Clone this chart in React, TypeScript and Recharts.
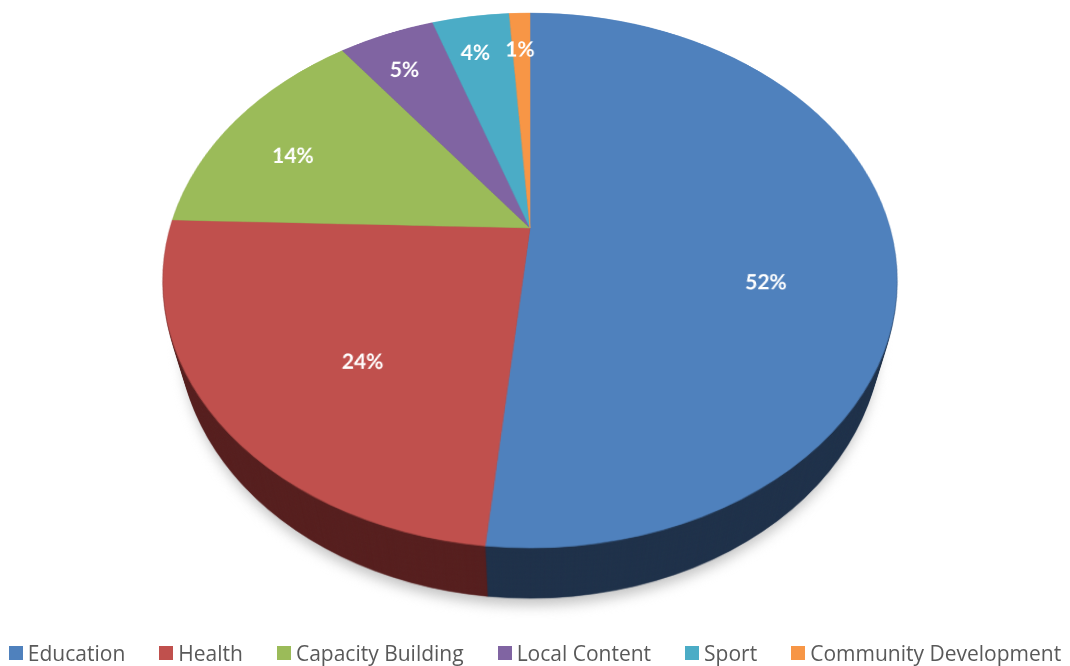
import React from "react";
import { PieChart, Pie, Cell } from "recharts";

const categories = [
  "Education",
  "Health",
  "Capacity Building",
  "Local Content",
  "Sport",
  "Community Development",
];
const shares = [51.6, 23.9, 14.2, 5.1, 4.1, 1.1];
const topColors = ["#4F81BD", "#C0504D", "#9BBB59", "#8064A2", "#4BACC6", "#F79646"];
const sideColors = ["#1F3149", "#561F1E", "#3E4B24", "#332841", "#1E4550", "#63391C"];

const data = categories.map((name, i) => ({ name, value: shares[i] }));

// flat pie, then tilted with css perspective to fake the excel 3d look
const SIZE = 740;
const R = 360;
const TILT = 44.4;
const PERSP = 1286;
const DEPTH = 82;
const APEX_X = 530;
const APEX_Y = 228;
const RAD = Math.PI / 180;

const cosT = Math.cos(TILT * RAD);
const sinT = Math.sin(TILT * RAD);
const noMargin = { top: 0, right: 0, bottom: 0, left: 0 };

function renderLabel(props: any) {
  const { cx, cy, midAngle, outerRadius, percent } = props;
  // excel nudges labels toward the front of the pie
  let diff = -90 - midAngle;
  while (diff > 180) diff -= 360;
  while (diff <= -180) diff += 360;
  const shift = Math.min(Math.abs(diff), percent * 28) * Math.sign(diff);
  const ang = midAngle + shift;
  const f = percent > 0.2 ? (percent > 0.4 ? 0.66 : 0.63) : percent > 0.1 ? 0.76 : 0.81;
  const r = outerRadius * f;
  const x = cx + r * Math.cos(-ang * RAD);
  const y = cy + r * Math.sin(-ang * RAD);
  // undo the perspective so the text stays upright
  const s = PERSP / (PERSP - (y - cy) * sinT);
  const a = s;
  const b = ((x - cx) * sinT * s * s) / PERSP;
  const d = cosT * s * s;
  return (
    <g transform={`matrix(${1 / a} 0 ${-b / (a * d)} ${1 / d} ${x} ${y})`}>
      <text
        x={0}
        y={0}
        textAnchor="middle"
        dominantBaseline="central"
        fill="#fff"
        fontSize={21}
        fontWeight="bold"
        fontFamily="Lato, 'Open Sans', sans-serif"
      >
        {`${Math.round(percent * 100)}%`}
      </text>
    </g>
  );
}

function Layer({ z, colors, top, style }: { z: number; colors: string[]; top?: boolean; style?: React.CSSProperties }) {
  return (
    <div
      style={{
        position: "absolute",
        left: 0,
        top: 0,
        width: SIZE,
        height: SIZE,
        transform: `translateZ(${-z}px)`,
        ...style,
      }}
    >
      <PieChart width={SIZE} height={SIZE} margin={noMargin}>
        <Pie
          data={data}
          dataKey="value"
          nameKey="name"
          cx="50%"
          cy="50%"
          outerRadius={R}
          startAngle={90}
          endAngle={-270}
          isAnimationActive={false}
          label={top ? renderLabel : false}
          labelLine={false}
        >
          {data.map((d, i) => (
            <Cell key={d.name} fill={colors[i]} stroke={colors[i]} strokeWidth={0.6} />
          ))}
        </Pie>
      </PieChart>
    </div>
  );
}

const sideDepths: number[] = [];
for (let z = DEPTH; z > 0; z -= 2) sideDepths.push(z);
const shadowColors = categories.map(() => "#c4c4c4");

export default function App() {
  return (
    <div
      style={{
        position: "absolute",
        left: 0,
        top: 0,
        width: 1070,
        height: 666,
        overflow: "hidden",
        background: "#fff",
      }}
    >
      <div
        style={{
          position: "absolute",
          left: 0,
          top: 0,
          width: 1070,
          height: 666,
          perspective: `${PERSP}px`,
          perspectiveOrigin: `${APEX_X}px ${APEX_Y}px`,
        }}
      >
        <div
          style={{
            position: "absolute",
            left: APEX_X - SIZE / 2,
            top: APEX_Y - SIZE / 2,
            width: SIZE,
            height: SIZE,
            transformStyle: "preserve-3d",
            transformOrigin: "50% 50%",
            transform: `rotateX(${TILT}deg)`,
          }}
        >
          <Layer z={DEPTH + 12} colors={shadowColors} style={{ filter: "blur(6px)" }} />
          {sideDepths.map((z) => (
            <Layer key={z} z={z} colors={sideColors} />
          ))}
          <Layer z={0} colors={topColors} top />
        </div>
      </div>
      <div
        style={{
          position: "absolute",
          left: 0,
          top: 641,
          width: 1070,
          height: 24,
          display: "flex",
          justifyContent: "center",
          alignItems: "center",
          gap: 34,
          fontFamily: "'Open Sans', Lato, sans-serif",
          fontSize: 21,
          lineHeight: "24px",
          color: "#595959",
        }}
      >
        {categories.map((c, i) => (
          <div key={c} style={{ display: "flex", alignItems: "center", gap: 5, whiteSpace: "nowrap" }}>
            <span style={{ width: 14, height: 14, background: topColors[i], display: "inline-block" }} />
            <span>{c}</span>
          </div>
        ))}
      </div>
    </div>
  );
}
